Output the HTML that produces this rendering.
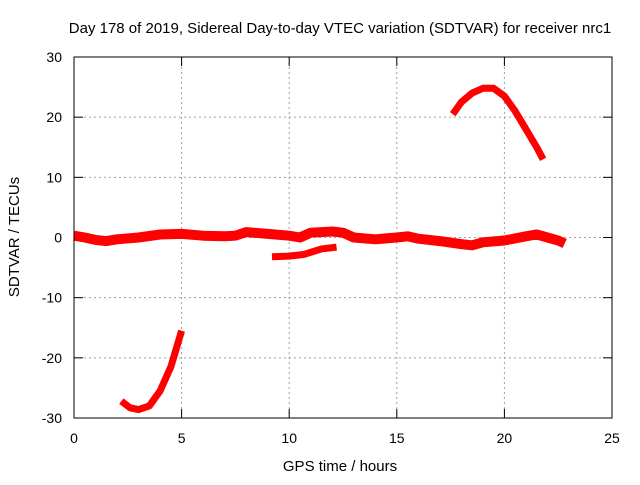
<!DOCTYPE html>
<html><head><style>body{margin:0;background:#fff}svg{font-family:"Liberation Sans",sans-serif}</style></head>
<body>
<svg width="640" height="480" id="c">
<text x="340" y="33" font-size="15" text-anchor="middle">Day 178 of 2019, Sidereal Day-to-day VTEC variation (SDTVAR) for receiver nrc1</text>
<text x="340" y="471" font-size="15" text-anchor="middle">GPS time / hours</text>
<text transform="translate(19,237) rotate(-90)" font-size="15" text-anchor="middle">SDTVAR / TECUs</text>
<g id="grid"></g>
<g id="ticks"></g>
<g id="series"></g>
<rect x="74" y="57" width="538" height="361" fill="none" stroke="#000"/>
</svg>
<script>
const xTicks=[0,5,10,15,20,25];
const yTicks=[-30,-20,-10,0,10,20,30];
const segMain=[[0,0.3],[0.5,0],[1,-0.4],[1.5,-0.6],[2,-0.3],[3,0],[4,0.5],[5,0.6],[6,0.3],[7,0.2],[7.5,0.3],[8,0.9],[9,0.6],[10,0.3],[10.5,0],[11,0.8],[12,1],[12.5,0.8],[13,0],[14,-0.3],[15,0],[15.5,0.2],[16,-0.2],[17,-0.6],[18,-1.1],[18.5,-1.3],[19,-0.8],[20,-0.5],[21,0.2],[21.5,0.5],[22,0],[22.5,-0.5],[22.8,-1.0]];
const segLow=[[9.2,-3.2],[10,-3.1],[10.7,-2.8],[11.5,-1.9],[12.2,-1.6]];
const segTop=[[17.6,20.5],[18,22.5],[18.5,24],[19,24.8],[19.5,24.8],[20,23.5],[20.5,21],[21,18],[21.5,15],[21.8,13]];
const segBottom=[[2.2,-27.2],[2.6,-28.3],[3,-28.6],[3.5,-28],[4,-25.5],[4.5,-21.5],[5,-15.5]];
const X=v=>74+v*538/25, Y=v=>237.5-v*361/60;
const NS='http://www.w3.org/2000/svg';
function mk(t,a,p){const e=document.createElementNS(NS,t);for(const k in a)e.setAttribute(k,a[k]);document.getElementById(p).appendChild(e);return e;}
xTicks.forEach(v=>{
 if(v>0&&v<25){const g=mk('line',{x1:X(v),x2:X(v),y1:57,y2:418,stroke:'#a0a0a0','stroke-dasharray':'2,3'},'grid');
 
 }
 mk('line',{x1:X(v),x2:X(v),y1:418,y2:409,stroke:'#000'},'ticks');
 mk('line',{x1:X(v),x2:X(v),y1:57,y2:66,stroke:'#000'},'ticks');
 const t=mk('text',{x:X(v),y:443,'font-size':14,'text-anchor':'middle'},'ticks');t.textContent=v;
 
 
});
yTicks.forEach(v=>{
 if(v>-30&&v<30){const g=mk('line',{x1:74,x2:612,y1:Y(v),y2:Y(v),stroke:'#a0a0a0','stroke-dasharray':'2,3'},'grid');
 
 }
 mk('line',{x1:74,x2:83,y1:Y(v),y2:Y(v),stroke:'#000'},'ticks');
 mk('line',{x1:612,x2:603,y1:Y(v),y2:Y(v),stroke:'#000'},'ticks');
 const t=mk('text',{x:62,y:Y(v)+5,'font-size':14,'text-anchor':'end'},'ticks');t.textContent=v;
 
 
});
[[segMain,'main-band',10],[segLow,'low-segment',7],[segTop,'top-arc',7],[segBottom,'bottom-arc',7]].forEach(([s,n,w])=>{
 const p=mk('polyline',{points:s.map(d=>X(d[0])+','+Y(d[1])).join(' '),fill:'none',stroke:'#f00','stroke-width':w,'stroke-linejoin':'round'},'series');
 
 
});
</script>
</body></html>
